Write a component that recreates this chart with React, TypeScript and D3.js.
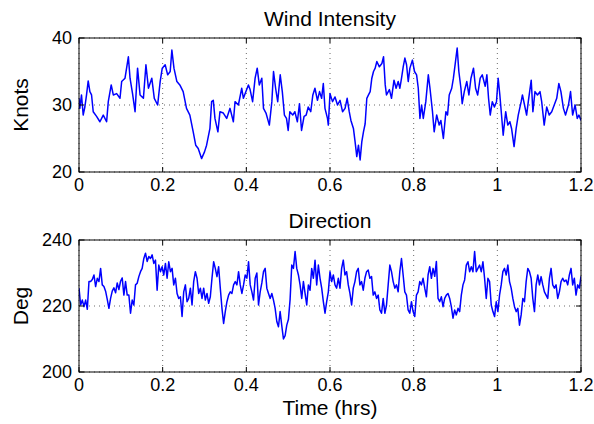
import React from "react";
import * as d3 from "d3";

// Wind speed record (hours, knots)
const windTime = [
  0.000, 0.002, 0.006, 0.010, 0.014, 0.018, 0.022, 0.026, 0.030, 0.034,
  0.042, 0.050, 0.058, 0.066, 0.070, 0.077, 0.082, 0.090, 0.098, 0.102,
  0.110, 0.118, 0.122, 0.128, 0.134, 0.140, 0.146, 0.154, 0.160, 0.166,
  0.174, 0.180, 0.188, 0.194, 0.199, 0.206, 0.212, 0.218, 0.222, 0.227,
  0.234, 0.241, 0.249, 0.257, 0.265, 0.273, 0.279, 0.285, 0.293, 0.300,
  0.305, 0.313, 0.317, 0.321, 0.325, 0.332, 0.337, 0.345, 0.353, 0.361,
  0.369, 0.373, 0.381, 0.389, 0.393, 0.399, 0.405, 0.409, 0.415, 0.421,
  0.426, 0.431, 0.437, 0.441, 0.447, 0.455, 0.461, 0.465, 0.470, 0.475,
  0.481, 0.486, 0.491, 0.496, 0.500, 0.504, 0.511, 0.516, 0.522, 0.527,
  0.532, 0.538, 0.543, 0.548, 0.554, 0.559, 0.564, 0.570, 0.575, 0.580,
  0.584, 0.588, 0.594, 0.596, 0.600, 0.606, 0.612, 0.618, 0.624, 0.630,
  0.636, 0.641, 0.646, 0.650, 0.656, 0.660, 0.664, 0.668, 0.672, 0.676,
  0.680, 0.684, 0.688, 0.692, 0.696, 0.700, 0.704, 0.708, 0.712, 0.718,
  0.724, 0.728, 0.732, 0.735, 0.742, 0.747, 0.753, 0.758, 0.763, 0.767,
  0.771, 0.775, 0.779, 0.783, 0.787, 0.791, 0.797, 0.802, 0.807, 0.811,
  0.815, 0.819, 0.823, 0.829, 0.835, 0.839, 0.845, 0.849, 0.855, 0.861,
  0.865, 0.871, 0.877, 0.881, 0.885, 0.891, 0.895, 0.899, 0.904, 0.908,
  0.913, 0.916, 0.921, 0.927, 0.932, 0.937, 0.943, 0.948, 0.953, 0.959,
  0.964, 0.971, 0.975, 0.979, 0.983, 0.988, 0.993, 0.998, 1.002, 1.006,
  1.010, 1.014, 1.020, 1.025, 1.030, 1.034, 1.040, 1.045, 1.050, 1.057,
  1.060, 1.065, 1.070, 1.074, 1.081, 1.085, 1.090, 1.096, 1.102, 1.106,
  1.112, 1.118, 1.124, 1.130, 1.136, 1.142, 1.147, 1.152, 1.158, 1.163,
  1.170, 1.175, 1.180, 1.186, 1.191, 1.195, 1.200,
];
const windKnots = [
  31.0, 29.5, 31.5, 28.5, 29.7, 31.5, 33.6, 32.0, 31.5, 29.0,
  28.3, 27.5, 28.5, 27.5, 30.5, 33.0, 31.5, 31.7, 31.0, 33.5,
  34.0, 37.2, 34.0, 31.7, 29.0, 35.5, 31.5, 31.0, 36.0, 32.5,
  34.0, 31.0, 30.0, 33.5, 35.5, 36.0, 34.5, 35.0, 38.2, 35.5,
  33.5, 33.0, 32.0, 29.5, 28.5, 26.0, 24.0, 23.5, 22.0, 23.0,
  24.0, 26.5, 30.5, 30.7, 28.0, 26.0, 29.0, 28.8, 28.0, 29.5,
  27.5, 30.5, 30.0, 32.5, 31.0, 32.0, 33.0, 32.3, 30.5, 34.0,
  35.5, 33.0, 34.0, 29.5, 28.8, 27.0, 30.5, 35.0, 32.5, 30.5,
  34.5, 32.0, 28.5, 28.0, 26.2, 29.0, 28.5, 29.0, 27.5, 30.2,
  26.2, 28.3, 28.5, 29.7, 29.0, 31.5, 32.5, 30.7, 32.0, 31.0,
  33.2, 29.5, 28.0, 27.0, 31.7, 30.5, 31.2, 30.0, 30.7, 29.0,
  29.5, 31.0, 29.0, 27.7, 26.5, 24.5, 22.3, 24.0, 21.8, 24.5,
  26.0, 27.2, 31.0, 31.5, 32.0, 34.0, 35.0, 35.5, 36.5, 35.7,
  36.2, 37.2, 33.0, 31.5, 32.3, 31.0, 33.7, 32.5, 33.5, 32.5,
  34.0, 35.7, 37.0, 36.0, 33.5, 35.5, 36.7, 35.0, 34.5, 32.5,
  28.0, 30.0, 28.0, 30.5, 34.5, 32.5, 29.0, 26.0, 28.5, 27.0,
  27.7, 25.0, 29.0, 28.5, 31.5, 32.5, 34.0, 36.0, 38.5, 35.0,
  32.5, 30.2, 32.0, 33.5, 31.5, 34.0, 35.5, 32.5, 31.5, 34.0,
  34.5, 32.8, 34.5, 31.0, 28.5, 30.5, 29.7, 30.5, 34.0, 31.5,
  28.5, 25.5, 29.0, 27.0, 27.5, 26.5, 23.8, 26.5, 28.5, 30.5,
  31.5, 30.0, 28.5, 30.5, 33.7, 29.0, 32.0, 31.5, 32.0, 30.5,
  27.0, 29.7, 28.5, 29.0, 30.0, 31.0, 33.2, 32.0, 29.5, 28.5,
  30.0, 32.0, 28.5, 30.0, 28.0, 28.5, 27.7,
];

// Wind direction record, sampled uniformly over the 1.2 h window (degrees)
const dirDeg = [
  225.4, 220.3, 221.8, 219.8, 221.8, 219.0, 227.4, 227.4, 228.0, 229.4,
  225.9, 228.4, 227.4, 231.4, 226.4, 225.9, 224.5, 222.0, 219.3, 222.3,
  224.5, 225.5, 224.0, 227.0, 225.0, 227.5, 228.5, 223.3, 227.4, 223.3,
  223.3, 217.8, 221.8, 220.3, 226.4, 226.9, 228.9, 230.4, 231.4, 234.4,
  236.0, 233.5, 235.0, 234.4, 235.5, 232.9, 233.9, 224.8, 232.4, 230.4,
  231.9, 229.4, 232.9, 228.4, 233.4, 230.4, 231.4, 226.4, 228.4, 223.8,
  222.3, 222.8, 216.8, 224.3, 226.4, 221.3, 222.3, 225.4, 220.3, 227.4,
  230.4, 228.4, 223.8, 225.4, 222.3, 225.4, 221.8, 223.8, 220.8, 222.8,
  228.4, 233.4, 231.4, 228.9, 231.9, 225.4, 219.3, 214.7, 218.3, 221.3,
  223.3, 224.3, 223.8, 226.4, 227.4, 226.4, 230.4,
  226.4, 223.8, 226.4, 229.4, 228.4, 233.4, 226.4, 224.3, 221.8, 228.4,
  230.0, 220.3, 224.3, 227.0, 230.4, 231.4, 225.4, 223.8, 222.3, 223.8,
  221.8, 219.3, 215.3, 213.7, 218.3, 214.0, 210.0, 211.0, 214.2, 216.0,
  222.0, 232.4, 231.4, 236.5, 231.4, 229.4, 226.4, 222.3, 227.4, 223.8,
  220.3, 226.4, 224.8, 231.4, 228.4, 233.9, 226.4, 232.4, 228.4, 225.4,
  221.3, 217.8, 221.3, 224.3, 230.4, 227.4, 229.4, 226.4, 225.4, 228.4,
  225.4, 231.4, 233.9, 229.4, 230.4, 226.4, 223.8, 220.3, 225.4, 227.4,
  230.4, 231.4, 226.4, 227.4, 224.8, 228.4, 230.4, 230.9, 228.4, 228.9,
  223.3, 224.3, 222.3, 223.3, 218.8, 217.8, 222.3, 217.8, 220.3, 226.4,
  232.4, 230.4, 227.4, 225.4, 226.4, 224.3, 230.4, 234.4, 229.4,
  224.3, 223.3, 218.8, 217.8, 221.3, 218.3, 216.8, 223.3, 224.3, 227.4,
  226.4, 228.4, 225.4, 222.8, 229.4, 231.9, 228.4, 231.4, 229.0, 233.5,
  222.3, 221.3, 222.8, 219.8, 222.3, 223.3, 223.8, 222.3, 219.8, 216.3,
  218.8, 217.3, 219.3, 218.3, 223.3, 226.4, 227.9, 232.4, 233.4, 230.4,
  231.9, 230.4, 236.5, 230.4, 231.4, 232.4, 230.4, 233.4, 228.4, 222.3,
  228.4, 227.4, 220.3, 218.3, 216.8, 221.3, 218.3, 223.3, 226.4, 230.4,
  231.4, 229.4, 232.4, 227.4, 225.4, 222.3, 219.8, 218.3, 219.3, 214.2,
  217.3, 222.3, 221.3, 227.4, 231.4, 230.4, 228.4, 222.3, 218.3, 226.4,
  229.4, 226.4, 228.9, 226.4, 224.3, 223.3, 222.3, 228.4, 231.4, 226.4,
  225.4, 226.4, 222.3, 224.3, 227.4, 228.4, 227.4, 227.9, 226.4, 229.4,
  231.4, 226.4, 228.4, 223.3, 226.4, 225.4, 229.0,
];
const TIME_SPAN_HRS = 1.2;
const dirTime = dirDeg.map((_, i) => (i * TIME_SPAN_HRS) / (dirDeg.length - 1));

const timeTicks = [0, 0.2, 0.4, 0.6, 0.8, 1, 1.2];
const windTicks = [20, 30, 40];
const dirTicks = [200, 220, 240];

const W = 594;
const H = 424;
const LEFT = 79;
const RIGHT = 581;
const FONT = "'Liberation Sans', Arial, Helvetica, sans-serif";
const TICK_LEN = 5;

type PanelProps = {
  title: string;
  ylabel: string;
  top: number;
  bottom: number;
  domain: [number, number];
  yTicks: number[];
  xs: number[];
  ys: number[];
};

function Panel({ title, ylabel, top, bottom, domain, yTicks, xs, ys }: PanelProps) {
  const x = d3.scaleLinear().domain([0, TIME_SPAN_HRS]).range([LEFT, RIGHT]);
  const y = d3.scaleLinear().domain(domain).range([bottom, top]);
  const line = d3
    .line<number>()
    .x((_, i) => x(xs[i]))
    .y((d) => y(d));
  const midY = (top + bottom) / 2;
  const fmt = (v: number) => String(v);

  return (
    <g>
      <defs>
        <clipPath id={`clip-${ylabel}`}>
          <rect x={LEFT} y={top} width={RIGHT - LEFT} height={bottom - top} />
        </clipPath>
      </defs>
      {/* dotted grid */}
      {timeTicks.map((t) => (
        <line
          key={`gx${t}`}
          x1={x(t)}
          x2={x(t)}
          y1={top}
          y2={bottom}
          stroke="#444"
          strokeWidth={0.8}
          strokeDasharray="1,4"
        />
      ))}
      {yTicks.map((v) => (
        <line
          key={`gy${v}`}
          x1={LEFT}
          x2={RIGHT}
          y1={y(v)}
          y2={y(v)}
          stroke="#444"
          strokeWidth={0.8}
          strokeDasharray="1,4"
        />
      ))}
      {/* series */}
      <path
        d={line(ys) ?? ""}
        fill="none"
        stroke="#0000ff"
        strokeWidth={1.5}
        strokeLinejoin="round"
        clipPath={`url(#clip-${ylabel})`}
      />
      {/* box */}
      <rect
        x={LEFT}
        y={top}
        width={RIGHT - LEFT}
        height={bottom - top}
        fill="none"
        stroke="#000"
        strokeWidth={1}
      />
      {/* inward ticks */}
      {timeTicks.map((t) => (
        <g key={`tx${t}`}>
          <line x1={x(t)} x2={x(t)} y1={bottom} y2={bottom - TICK_LEN} stroke="#000" />
          <line x1={x(t)} x2={x(t)} y1={top} y2={top + TICK_LEN} stroke="#000" />
          <text
            x={x(t)}
            y={bottom + 19}
            textAnchor="middle"
            fontSize={18}
            fontFamily={FONT}
            fill="#000"
          >
            {fmt(t)}
          </text>
        </g>
      ))}
      {yTicks.map((v) => (
        <g key={`ty${v}`}>
          <line x1={LEFT} x2={LEFT + TICK_LEN} y1={y(v)} y2={y(v)} stroke="#000" />
          <line x1={RIGHT} x2={RIGHT - TICK_LEN} y1={y(v)} y2={y(v)} stroke="#000" />
          <text
            x={LEFT - 7}
            y={y(v)}
            dy="0.35em"
            textAnchor="end"
            fontSize={18}
            fontFamily={FONT}
            fill="#000"
          >
            {v}
          </text>
        </g>
      ))}
      <text
        x={(LEFT + RIGHT) / 2}
        y={top - 12}
        textAnchor="middle"
        fontSize={21}
        fontFamily={FONT}
        fill="#000"
      >
        {title}
      </text>
      <text
        transform={`translate(28,${midY}) rotate(-90)`}
        textAnchor="middle"
        fontSize={21}
        fontFamily={FONT}
        fill="#000"
      >
        {ylabel}
      </text>
    </g>
  );
}

export default function App() {
  return (
    <svg
      width={W}
      height={H}
      viewBox={`0 0 ${W} ${H}`}
      style={{ position: "fixed", left: 0, top: 0, background: "#fff" }}
    >
      <rect x={0} y={0} width={W} height={H} fill="#fff" />
      <Panel
        title="Wind Intensity"
        ylabel="Knots"
        top={38}
        bottom={172}
        domain={[20, 40]}
        yTicks={windTicks}
        xs={windTime}
        ys={windKnots}
      />
      <Panel
        title="Direction"
        ylabel="Deg"
        top={240}
        bottom={372}
        domain={[200, 240]}
        yTicks={dirTicks}
        xs={dirTime}
        ys={dirDeg}
      />
      <text
        x={(LEFT + RIGHT) / 2}
        y={415}
        textAnchor="middle"
        fontSize={21}
        fontFamily={FONT}
        fill="#000"
      >
        Time (hrs)
      </text>
    </svg>
  );
}
